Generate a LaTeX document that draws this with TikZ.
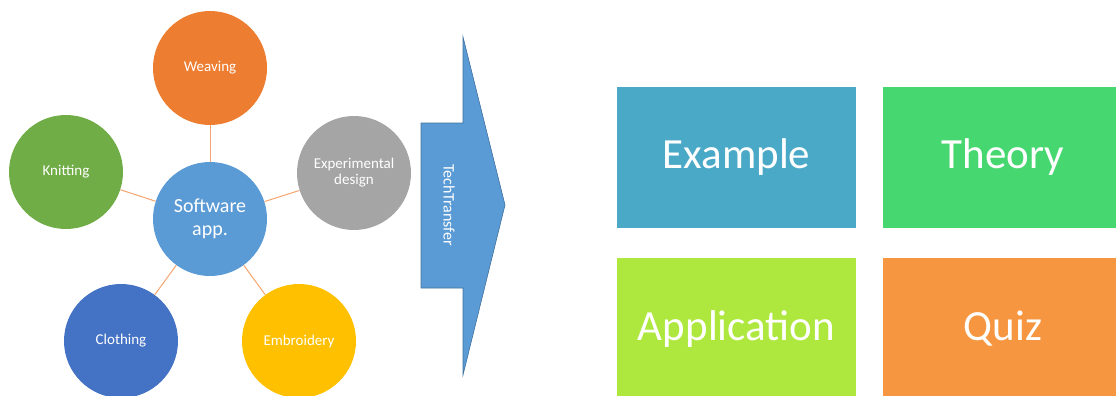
\documentclass[tikz,border=0pt]{standalone}
\usepackage{fontspec}
\setmainfont{Carlito}
\usetikzlibrary{positioning}

\definecolor{weavecol}{HTML}{ED7D31}
\definecolor{knitcol}{HTML}{70AD47}
\definecolor{expcol}{HTML}{A5A5A5}
\definecolor{softcol}{HTML}{5B9BD5}
\definecolor{clothcol}{HTML}{4472C4}
\definecolor{embcol}{HTML}{FFC000}
\definecolor{linkcol}{HTML}{F4A46E}
\definecolor{arrowline}{HTML}{41719C}
\definecolor{excol}{HTML}{4BA9C8}
\definecolor{thcol}{HTML}{47D771}
\definecolor{apcol}{HTML}{AEE83F}
\definecolor{qzcol}{HTML}{F69640}

\begin{document}
\begin{tikzpicture}[x=1pt,y=-1pt,
    bubble/.style={circle,minimum size=114pt,inner sep=0pt,text=white,align=center,
      font=\fontsize{15}{16}\selectfont},
    spoke/.style={draw=linkcol,line width=1pt},
    tile/.style={minimum width=239pt,minimum height=141pt,inner sep=0pt,text=white,
      font=\fontsize{43}{50}\selectfont}]
  \useasboundingbox (0,0) rectangle (1116,396);
  \clip (0,0) rectangle (1116,396);

  % the hub and its five topics
  \node[bubble,fill=softcol,font=\fontsize{20}{23}\selectfont] (sw) at (210,219) {Software\\app.};
  \node[bubble,fill=weavecol] (wv) at (210,68) {Weaving};
  \node[bubble,fill=knitcol] (kn) at (66,172) {Knitting};
  \node[bubble,fill=expcol] (ed) at (354,173) {Experimental\\design};
  \node[bubble,fill=clothcol] (cl) at (121,341) {Clothing};
  \node[bubble,fill=embcol] (em) at (299,341) {Embroidery};
  \foreach \t in {wv,kn,ed,cl,em}
    \draw[spoke] (sw) -- (\t);

  % the big arrow
  \draw[fill=softcol,draw=arrowline,line width=.6pt]
    (421,123) -- (463,123) -- (463,37) -- (505,205) -- (463,375) -- (463,288) -- (421,288) -- cycle;
  \node[rotate=-90,text=white,font=\fontsize{16}{18}\selectfont] (tt) at (449,205) {TechTransfer};

  % the four tiles
  \node[tile,fill=excol] (ex) at (736.5,157.5) {Example};
  \node[tile,fill=thcol,right=27pt of ex] (th) {Theory};
  \node[tile,fill=apcol,below=30pt of ex] (ap) {Application};
  \node[tile,fill=qzcol,below=30pt of th] (qz) {Quiz};
\end{tikzpicture}
\end{document}
